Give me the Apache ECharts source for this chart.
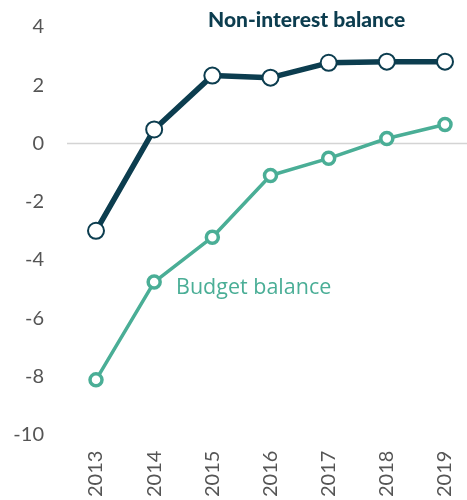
<!DOCTYPE html>
<html>
<head>
<meta charset="utf-8">
<script src="https://cdn.jsdelivr.net/npm/echarts@6/dist/echarts.min.js"></script>
<style>
  html, body { margin: 0; padding: 0; background: #fff; }
  #chart { width: 467px; height: 500px; }
</style>
</head>
<body>
<div id="chart"></div>
<script>
// Fiscal balances, % of GDP
const years = ['2013', '2014', '2015', '2016', '2017', '2018', '2019'];
const nonInterestBalance = [-3.0, 0.48, 2.33, 2.26, 2.77, 2.81, 2.81];
const budgetBalance = [-8.12, -4.76, -3.22, -1.1, -0.51, 0.17, 0.65];
const yTicks = { min: -10, max: 4, step: 2 };

const DARK = '#0c3d4f';
const GREEN = '#4aae96';
const FONT = 'Lato, "Noto Sans", sans-serif';
const LABEL_FONT = '"Open Sans", "Noto Sans", sans-serif';

const chart = echarts.init(document.getElementById('chart'), null, { renderer: 'canvas' });

chart.setOption({
  animation: false,
  backgroundColor: '#ffffff',
  grid: { left: 96, right: 22, top: 27, bottom: 64, containLabel: false },
  xAxis: {
    type: 'category',
    data: years,
    boundaryGap: false,
    axisLine: { show: false },
    axisTick: { show: false },
    axisLabel: {
      rotate: 90,
      margin: 16,
      color: '#555555',
      fontSize: 20,
      fontFamily: FONT
    },
    splitLine: { show: false }
  },
  yAxis: {
    type: 'value',
    min: yTicks.min,
    max: yTicks.max,
    interval: yTicks.step,
    axisLine: { show: false },
    axisTick: { show: false },
    splitLine: { show: false },
    axisLabel: {
      margin: 52,
      color: '#555555',
      fontSize: 20,
      fontFamily: FONT
    }
  },
  series: [
    {
      name: 'Budget balance',
      type: 'line',
      data: budgetBalance,
      z: 3,
      symbol: 'circle',
      symbolSize: 12,
      showAllSymbol: true,
      lineStyle: { color: GREEN, width: 3.5 },
      itemStyle: { color: '#ffffff', borderColor: GREEN, borderWidth: 3.5 }
    },
    {
      name: 'Non-interest balance',
      type: 'line',
      data: nonInterestBalance,
      z: 4,
      symbol: 'circle',
      symbolSize: 16,
      showAllSymbol: true,
      lineStyle: { color: DARK, width: 5.5 },
      itemStyle: { color: '#ffffff', borderColor: DARK, borderWidth: 2 }
    }
  ]
});

// Zero reference line across the full plotting band, plus series labels
const zeroY = chart.convertToPixel({ yAxisIndex: 0 }, 0);
chart.setOption({
  graphic: [
    {
      type: 'line',
      z: 1,
      shape: { x1: 67, y1: zeroY, x2: 467, y2: zeroY },
      style: { stroke: '#d4d4d4', lineWidth: 1.5 }
    },
    {
      type: 'text',
      left: 208,
      top: 10,
      style: {
        text: 'Non-interest balance',
        fill: DARK,
        font: '900 21px ' + FONT
      }
    },
    {
      type: 'text',
      left: 176,
      top: 277,
      style: {
        text: 'Budget balance',
        fill: GREEN,
        font: '21.5px ' + LABEL_FONT
      }
    }
  ]
});
</script>
</body>
</html>
